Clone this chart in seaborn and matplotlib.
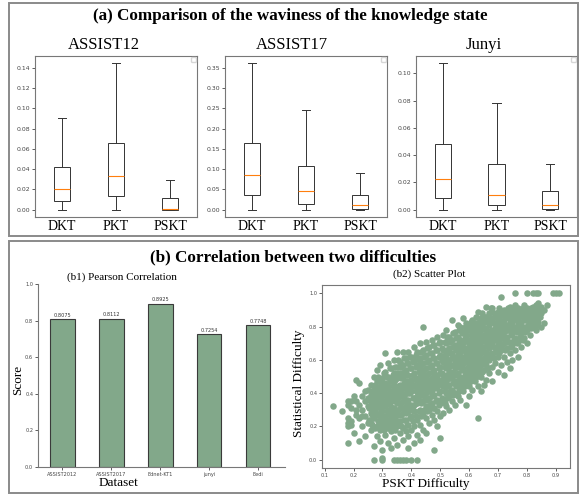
import matplotlib
matplotlib.use("Agg")
import matplotlib.pyplot as plt
import seaborn as sns
import numpy as np
import pandas as pd
from matplotlib.patches import Rectangle

# ---- data ----
models = ["DKT", "PKT", "PSKT"]
box_titles = ["ASSIST12", "ASSIST17", "Junyi"]
# five-number summaries (min, q1, median, q3, max) per model
assist12 = [[0.0, 0.0082, 0.0207, 0.0417, 0.0909],
            [0.0, 0.0131, 0.0328, 0.0653, 0.1444],
            [0.0, 0.0, 0.0010, 0.0112, 0.0289]]
assist17 = [[0.0, 0.0352, 0.0852, 0.1648, 0.3607],
            [0.0, 0.0139, 0.0451, 0.1074, 0.2459],
            [0.0, 0.0016, 0.0107, 0.0361, 0.0893]]
junyi = [[0.0, 0.0083, 0.0222, 0.0480, 0.1073],
         [0.0, 0.0034, 0.0110, 0.0332, 0.0783],
         [0.0, 0.0007, 0.0034, 0.0134, 0.0332]]

datasets = ["ASSIST2012", "ASSIST2017", "Ednet-KT1", "junyi", "Eedi"]
pearson = [0.8075, 0.8112, 0.8925, 0.7254, 0.7748]

pskt_x = [0.13, 0.16, 0.18, 0.18, 0.18, 0.18, 0.18, 0.19, 0.19, 0.19, 0.20, 0.20, 0.18, 0.19,
          0.21, 0.22, 0.21, 0.21, 0.22, 0.22, 0.22, 0.23, 0.23, 0.23, 0.24, 0.24, 0.24, 0.24, 0.25, 0.25, 0.25, 0.25, 0.21, 0.23,
          0.26, 0.26, 0.26, 0.26, 0.26, 0.27, 0.27, 0.27, 0.27, 0.27, 0.27, 0.27, 0.28, 0.28, 0.28, 0.28, 0.28, 0.28, 0.28,
          0.29, 0.29, 0.29, 0.29, 0.29, 0.29, 0.29, 0.30, 0.30, 0.30, 0.30, 0.30, 0.30, 0.30, 0.30, 0.26, 0.28, 0.29, 0.27,
          0.31, 0.31, 0.31, 0.31, 0.31, 0.31, 0.31, 0.32, 0.32, 0.32, 0.32, 0.32, 0.32, 0.32, 0.32, 0.33, 0.33, 0.33, 0.33,
          0.33, 0.33, 0.33, 0.34, 0.34, 0.34, 0.34, 0.34, 0.34, 0.34, 0.34, 0.35, 0.35, 0.35, 0.35, 0.35, 0.35, 0.35, 0.35,
          0.35, 0.31, 0.32, 0.33, 0.34, 0.35, 0.33,
          0.36, 0.36, 0.36, 0.36, 0.36, 0.36, 0.36, 0.36, 0.37, 0.37, 0.37, 0.37, 0.37, 0.37, 0.37, 0.37, 0.37, 0.38, 0.38,
          0.38, 0.38, 0.38, 0.38, 0.38, 0.38, 0.39, 0.39, 0.39, 0.39, 0.39, 0.39, 0.39, 0.39, 0.39, 0.40, 0.40, 0.40, 0.40,
          0.40, 0.40, 0.40, 0.40, 0.36, 0.37, 0.38, 0.39, 0.40, 0.38,
          0.41, 0.41, 0.41, 0.41, 0.41, 0.41, 0.41, 0.41, 0.42, 0.42, 0.42, 0.42, 0.42, 0.42, 0.42, 0.42, 0.43, 0.43, 0.43,
          0.43, 0.43, 0.43, 0.43, 0.43, 0.44, 0.44, 0.44, 0.44, 0.44, 0.44, 0.44, 0.44, 0.45, 0.45, 0.45, 0.45, 0.45, 0.45,
          0.45, 0.45, 0.42, 0.43, 0.44, 0.45, 0.41, 0.43,
          0.46, 0.46, 0.46, 0.46, 0.46, 0.46, 0.46, 0.47, 0.47, 0.47, 0.47, 0.47, 0.47, 0.47, 0.48, 0.48, 0.48, 0.48, 0.48,
          0.48, 0.48, 0.48, 0.49, 0.49, 0.49, 0.49, 0.49, 0.49, 0.49, 0.49, 0.50, 0.50, 0.50, 0.50, 0.50, 0.50, 0.50, 0.50,
          0.46, 0.47, 0.48, 0.49, 0.50, 0.47,
          0.51, 0.51, 0.51, 0.51, 0.51, 0.51, 0.51, 0.52, 0.52, 0.52, 0.52, 0.52, 0.52, 0.52, 0.53, 0.53, 0.53, 0.53, 0.53,
          0.53, 0.53, 0.54, 0.54, 0.54, 0.54, 0.54, 0.54, 0.54, 0.55, 0.55, 0.55, 0.55, 0.55, 0.55, 0.55, 0.51, 0.52, 0.53,
          0.54, 0.55, 0.53,
          0.56, 0.56, 0.56, 0.56, 0.56, 0.56, 0.56, 0.57, 0.57, 0.57, 0.57, 0.57, 0.57, 0.57, 0.58, 0.58, 0.58, 0.58, 0.58,
          0.58, 0.58, 0.59, 0.59, 0.59, 0.59, 0.59, 0.59, 0.59, 0.60, 0.60, 0.60, 0.60, 0.60, 0.60, 0.60, 0.56, 0.57, 0.58,
          0.59, 0.60, 0.58,
          0.61, 0.61, 0.61, 0.61, 0.61, 0.61, 0.61, 0.62, 0.62, 0.62, 0.62, 0.62, 0.62, 0.63, 0.63, 0.63, 0.63, 0.63, 0.63,
          0.63, 0.63, 0.64, 0.64, 0.64, 0.64, 0.64, 0.64, 0.64, 0.65, 0.65, 0.65, 0.65, 0.65, 0.65, 0.61, 0.62, 0.63, 0.64,
          0.65, 0.62,
          0.66, 0.66, 0.66, 0.66, 0.66, 0.66, 0.66, 0.67, 0.67, 0.67, 0.67, 0.67, 0.67, 0.68, 0.68, 0.68, 0.68, 0.68, 0.68,
          0.68, 0.69, 0.69, 0.69, 0.69, 0.69, 0.70, 0.70, 0.70, 0.70, 0.70, 0.70, 0.67, 0.68, 0.69, 0.70, 0.66,
          0.71, 0.71, 0.71, 0.71, 0.71, 0.71, 0.72, 0.72, 0.72, 0.72, 0.72, 0.72, 0.73, 0.73, 0.73, 0.73, 0.73, 0.74, 0.74,
          0.74, 0.74, 0.74, 0.74, 0.75, 0.75, 0.75, 0.75, 0.75, 0.72, 0.73, 0.74, 0.75,
          0.76, 0.76, 0.76, 0.76, 0.76, 0.76, 0.77, 0.77, 0.77, 0.77, 0.77, 0.78, 0.78, 0.78, 0.78, 0.79, 0.79, 0.79, 0.79,
          0.80, 0.80, 0.80, 0.80, 0.80, 0.78, 0.77,
          0.81, 0.81, 0.81, 0.82, 0.82, 0.82, 0.82, 0.83, 0.83, 0.83, 0.83, 0.84, 0.84, 0.84, 0.84, 0.85, 0.85, 0.86, 0.86,
          0.87, 0.89, 0.90, 0.91, 0.85]
stat_y = [0.32, 0.29, 0.10, 0.20, 0.22, 0.25, 0.35, 0.31, 0.23, 0.35, 0.38, 0.16, 0.33, 0.21,
          0.48, 0.46, 0.27, 0.30, 0.25, 0.33, 0.11, 0.38, 0.20, 0.30, 0.41, 0.35, 0.26, 0.14, 0.42, 0.22, 0.32, 0.37, 0.35, 0.26,
          0.18, 0.28, 0.39, 0.45, 0.33, 0.08, 0.00, 0.25, 0.30, 0.36, 0.42, 0.50, 0.20, 0.27, 0.34, 0.40, 0.47, 0.54, 0.14,
          0.11, 0.18, 0.24, 0.31, 0.38, 0.44, 0.57, 0.01, 0.00, 0.06, 0.22, 0.29, 0.36, 0.42, 0.49, 0.22, 0.37, 0.28, 0.33,
          0.64, 0.15, 0.26, 0.33, 0.40, 0.46, 0.53, 0.10, 0.19, 0.24, 0.30, 0.37, 0.44, 0.50, 0.58, 0.07, 0.17, 0.28, 0.35,
          0.41, 0.48, 0.55, 0.00, 0.13, 0.22, 0.31, 0.38, 0.45, 0.52, 0.60, 0.00, 0.09, 0.20, 0.27, 0.34, 0.42, 0.49, 0.56,
          0.65, 0.21, 0.34, 0.39, 0.27, 0.38, 0.23,
          0.00, 0.16, 0.23, 0.31, 0.38, 0.45, 0.52, 0.59, 0.00, 0.12, 0.19, 0.28, 0.35, 0.43, 0.50, 0.57, 0.65, 0.00, 0.17,
          0.24, 0.32, 0.40, 0.47, 0.54, 0.61, 0.07, 0.14, 0.21, 0.29, 0.36, 0.44, 0.51, 0.58, 0.65, 0.00, 0.18, 0.26, 0.33,
          0.41, 0.48, 0.55, 0.62, 0.41, 0.39, 0.36, 0.40, 0.45, 0.28,
          0.10, 0.20, 0.29, 0.37, 0.45, 0.52, 0.60, 0.68, 0.00, 0.15, 0.24, 0.34, 0.42, 0.49, 0.57, 0.65, 0.12, 0.21, 0.30,
          0.39, 0.46, 0.54, 0.61, 0.70, 0.80, 0.18, 0.27, 0.35, 0.43, 0.51, 0.58, 0.66, 0.16, 0.25, 0.32, 0.40, 0.48, 0.55,
          0.63, 0.71, 0.38, 0.43, 0.47, 0.44, 0.33, 0.50,
          0.22, 0.30, 0.37, 0.45, 0.52, 0.60, 0.68, 0.27, 0.34, 0.42, 0.49, 0.57, 0.64, 0.72, 0.06, 0.24, 0.31, 0.39, 0.46,
          0.54, 0.61, 0.69, 0.20, 0.29, 0.36, 0.44, 0.51, 0.58, 0.66, 0.74, 0.13, 0.26, 0.34, 0.41, 0.48, 0.56, 0.63, 0.71,
          0.41, 0.46, 0.50, 0.48, 0.52, 0.38,
          0.28, 0.36, 0.44, 0.51, 0.59, 0.66, 0.75, 0.32, 0.40, 0.47, 0.55, 0.62, 0.70, 0.78, 0.30, 0.38, 0.45, 0.53, 0.60,
          0.67, 0.74, 0.35, 0.42, 0.50, 0.57, 0.64, 0.72, 0.84, 0.33, 0.40, 0.47, 0.55, 0.62, 0.69, 0.77, 0.48, 0.58, 0.56,
          0.61, 0.58, 0.49,
          0.38, 0.45, 0.52, 0.60, 0.67, 0.74, 0.81, 0.36, 0.43, 0.50, 0.58, 0.65, 0.72, 0.80, 0.41, 0.48, 0.55, 0.62, 0.70,
          0.77, 0.85, 0.33, 0.46, 0.53, 0.60, 0.67, 0.75, 0.82, 0.38, 0.44, 0.51, 0.58, 0.65, 0.72, 0.80, 0.63, 0.61, 0.66,
          0.64, 0.68, 0.58,
          0.42, 0.49, 0.56, 0.63, 0.70, 0.77, 0.84, 0.47, 0.54, 0.61, 0.68, 0.75, 0.82, 0.25, 0.44, 0.52, 0.59, 0.66, 0.73,
          0.80, 0.89, 0.41, 0.50, 0.57, 0.64, 0.71, 0.78, 0.85, 0.45, 0.54, 0.61, 0.68, 0.75, 0.83, 0.66, 0.71, 0.69, 0.74,
          0.72, 0.64,
          0.48, 0.57, 0.64, 0.71, 0.78, 0.86, 0.92, 0.52, 0.60, 0.67, 0.74, 0.81, 0.88, 0.47, 0.56, 0.63, 0.70, 0.77, 0.84,
          0.91, 0.58, 0.65, 0.72, 0.79, 0.86, 0.53, 0.62, 0.69, 0.76, 0.83, 0.89, 0.70, 0.74, 0.76, 0.80, 0.75,
          0.98, 0.57, 0.66, 0.73, 0.80, 0.87, 0.51, 0.62, 0.70, 0.77, 0.84, 0.90, 0.59, 0.67, 0.74, 0.81, 0.88, 0.55, 0.64,
          0.71, 0.78, 0.85, 0.92, 0.60, 0.69, 0.76, 0.83, 0.89, 0.80, 0.78, 0.82, 0.80,
          1.00, 0.66, 0.73, 0.80, 0.87, 0.93, 0.62, 0.71, 0.78, 0.85, 0.91, 0.68, 0.76, 0.83, 0.89, 0.73, 0.80, 0.87, 0.93,
          1.00, 0.70, 0.78, 0.85, 0.91, 0.80, 0.82,
          0.75, 0.83, 0.89, 1.00, 0.80, 0.87, 0.92, 1.00, 0.78, 0.85, 0.93, 1.00, 0.83, 0.90, 0.94, 0.88, 0.92, 0.90, 0.82,
          0.93, 1.00, 1.00, 1.00, 0.80]

# denser core of the cloud: PSKT difficulty -> statistical difficulties read at that column
core_cols = {
    0.255: [0.24, 0.31, 0.36], 0.265: [0.21, 0.27, 0.35, 0.41], 0.275: [0.19, 0.29, 0.38, 0.45],
    0.285: [0.23, 0.32, 0.43, 0.50], 0.295: [0.21, 0.27, 0.34, 0.40, 0.47],
    0.305: [0.18, 0.25, 0.32, 0.39, 0.45, 0.52], 0.315: [0.23, 0.29, 0.36, 0.43, 0.50],
    0.325: [0.21, 0.27, 0.33, 0.40, 0.47, 0.55], 0.335: [0.20, 0.25, 0.31, 0.37, 0.44, 0.51],
    0.345: [0.18, 0.24, 0.29, 0.35, 0.41, 0.48, 0.56], 0.355: [0.23, 0.30, 0.37, 0.44, 0.52, 0.60],
    0.365: [0.20, 0.27, 0.34, 0.42, 0.49, 0.56], 0.375: [0.24, 0.31, 0.38, 0.46, 0.53, 0.61],
    0.385: [0.21, 0.29, 0.35, 0.43, 0.51, 0.58], 0.395: [0.25, 0.32, 0.40, 0.47, 0.55, 0.62],
    0.405: [0.23, 0.30, 0.37, 0.44, 0.51, 0.59], 0.415: [0.26, 0.34, 0.41, 0.48, 0.56, 0.63],
    0.425: [0.29, 0.36, 0.45, 0.53, 0.60], 0.435: [0.26, 0.34, 0.41, 0.49, 0.57, 0.65],
    0.445: [0.30, 0.38, 0.46, 0.54, 0.62], 0.455: [0.29, 0.36, 0.43, 0.51, 0.59, 0.67],
    0.465: [0.33, 0.41, 0.48, 0.56, 0.64], 0.475: [0.31, 0.39, 0.45, 0.53, 0.61, 0.69],
    0.485: [0.35, 0.43, 0.50, 0.58, 0.66], 0.495: [0.33, 0.40, 0.47, 0.55, 0.62, 0.70],
    0.505: [0.37, 0.45, 0.52, 0.60, 0.67], 0.515: [0.34, 0.41, 0.49, 0.56, 0.63, 0.71],
    0.525: [0.37, 0.44, 0.51, 0.59, 0.66, 0.74], 0.535: [0.41, 0.49, 0.57, 0.64, 0.71],
    0.545: [0.39, 0.46, 0.53, 0.61, 0.68, 0.76], 0.555: [0.44, 0.51, 0.59, 0.66, 0.73],
    0.565: [0.41, 0.48, 0.56, 0.63, 0.70, 0.78], 0.575: [0.46, 0.54, 0.61, 0.68, 0.76],
    0.585: [0.44, 0.51, 0.59, 0.66, 0.73, 0.80], 0.595: [0.49, 0.56, 0.63, 0.71, 0.78],
    0.605: [0.47, 0.54, 0.61, 0.68, 0.75, 0.83], 0.615: [0.52, 0.59, 0.66, 0.73, 0.80],
    0.625: [0.50, 0.57, 0.64, 0.71, 0.78, 0.86], 0.635: [0.55, 0.62, 0.69, 0.76, 0.83],
    0.645: [0.53, 0.60, 0.67, 0.74, 0.81, 0.88], 0.655: [0.58, 0.65, 0.72, 0.79, 0.86],
    0.665: [0.55, 0.62, 0.69, 0.76, 0.83], 0.675: [0.64, 0.71, 0.78, 0.85, 0.91],
    0.685: [0.61, 0.68, 0.75, 0.82, 0.88], 0.695: [0.66, 0.73, 0.80, 0.86],
    0.705: [0.64, 0.71, 0.78, 0.85, 0.91], 0.715: [0.69, 0.76, 0.83, 0.89],
    0.725: [0.66, 0.73, 0.81, 0.87], 0.735: [0.71, 0.78, 0.85, 0.91],
    0.745: [0.68, 0.75, 0.82, 0.88], 0.755: [0.72, 0.79, 0.86, 0.90],
    0.765: [0.70, 0.77, 0.84, 0.89], 0.775: [0.74, 0.81, 0.87],
    0.785: [0.72, 0.79, 0.86, 0.91], 0.795: [0.77, 0.84, 0.89],
    0.805: [0.81, 0.87, 0.90], 0.815: [0.79, 0.85, 0.91], 0.825: [0.83, 0.89],
    0.835: [0.81, 0.88, 0.92], 0.845: [0.86, 0.91],
}

GREEN = "#82a88a"
SERIF = "Liberation Serif"
W, H = 579, 498

plt.rcParams["font.family"] = "DejaVu Sans"
plt.rcParams["axes.edgecolor"] = "#777777"
plt.rcParams["axes.linewidth"] = 0.8
plt.rcParams["xtick.color"] = "#444444"
plt.rcParams["ytick.color"] = "#444444"

fig = plt.figure(figsize=(W / 100, H / 100), dpi=100)


def px_axes(l, t, r, b):
    return fig.add_axes([l / W, 1 - b / H, (r - l) / W, (b - t) / H])


def px_text(x, y, s, **kw):
    fig.text(x / W, 1 - y / H, s, ha="center", va="center", **kw)


# panel frames
for (l, t, r, b) in [(9, 3, 578, 236), (9, 241, 578, 493)]:
    fig.patches.append(Rectangle((l / W, 1 - b / H), (r - l) / W, (b - t) / H,
                                 transform=fig.transFigure, fill=False,
                                 edgecolor="#8a8a8a", linewidth=1.4))

px_text(290, 16, "(a) Comparison of the waviness of the knowledge state",
        family=SERIF, fontsize=12.3, fontweight="bold")
px_text(293, 257, "(b) Correlation between two difficulties",
        family=SERIF, fontsize=12.3, fontweight="bold")

# ---- (a) box plots ----
box_pos = [(35, 197, 104), (225, 387, 292), (416, 577, 484)]
for summary, title, (l, r, tx) in zip([assist12, assist17, junyi], box_titles, box_pos):
    ax = px_axes(l, 56, r, 217)
    df = pd.DataFrame({"model": np.repeat(models, 5),
                       "value": np.concatenate(summary)})
    sns.boxplot(data=df, x="model", y="value", ax=ax, width=0.3, whis=(0, 100),
                showfliers=False, color="white", linecolor="#333333", linewidth=0.7,
                saturation=1, medianprops={"color": "#ff7f0e", "linewidth": 0.8})
    ax.set_xlabel("")
    ax.set_ylabel("")
    ax.tick_params(axis="y", labelsize=4.4, length=2, width=0.6, pad=1.5)
    ax.tick_params(axis="x", length=0, pad=2)
    for lab in ax.get_xticklabels():
        lab.set_fontfamily(SERIF)
        lab.set_fontsize(10)
        lab.set_color("black")
    ax.legend(handles=[], loc="upper right", fontsize=3, borderpad=0.6,
              borderaxespad=0.3)
    px_text(tx, 45, title, family=SERIF, fontsize=12)

# ---- (b1) bar plot ----
ax = px_axes(38, 284, 285, 467)
sns.barplot(x=datasets, y=pearson, ax=ax, color=GREEN, saturation=1, width=0.5,
            edgecolor="#3a3a3a", linewidth=0.8)
ax.bar_label(ax.containers[0], fmt="%.4f", fontsize=3.6, padding=1, color="#333333")
ax.set_ylim(0, 1.0)
ax.set_xlim(-0.5, 4.55)
ax.set_yticks([0.0, 0.2, 0.4, 0.6, 0.8, 1.0])
ax.tick_params(labelsize=3.6, length=2, width=0.6, pad=1.5)
sns.despine(ax=ax)
px_text(122, 277, "(b1) Pearson Correlation", family=SERIF, fontsize=8)
px_text(118, 483, "Dataset", family=SERIF, fontsize=9.5)
px_text(18, 380, "Score", family=SERIF, fontsize=9.5, rotation=90)

# ---- (b2) scatter ----
all_x = pskt_x + [x for x, ys in core_cols.items() for _ in ys]
all_y = stat_y + [y for ys in core_cols.values() for y in ys]
ax = px_axes(322, 285, 570, 468)
sns.scatterplot(x=all_x, y=all_y, ax=ax, color=GREEN, s=22, linewidth=0)
ax.set_xticks([0.1, 0.2, 0.3, 0.4, 0.5, 0.6, 0.7, 0.8, 0.9])
ax.set_yticks([0.0, 0.2, 0.4, 0.6, 0.8, 1.0])
ax.tick_params(labelsize=3.6, length=2, width=0.6, pad=1.5)
px_text(429, 274, "(b2) Scatter Plot", family=SERIF, fontsize=8)
px_text(426, 484, "PSKT Difficulty", family=SERIF, fontsize=9.5)
px_text(299, 383, "Statistical Difficulty", family=SERIF, fontsize=9.5, rotation=90)

fig.savefig("out.png", dpi=100)
